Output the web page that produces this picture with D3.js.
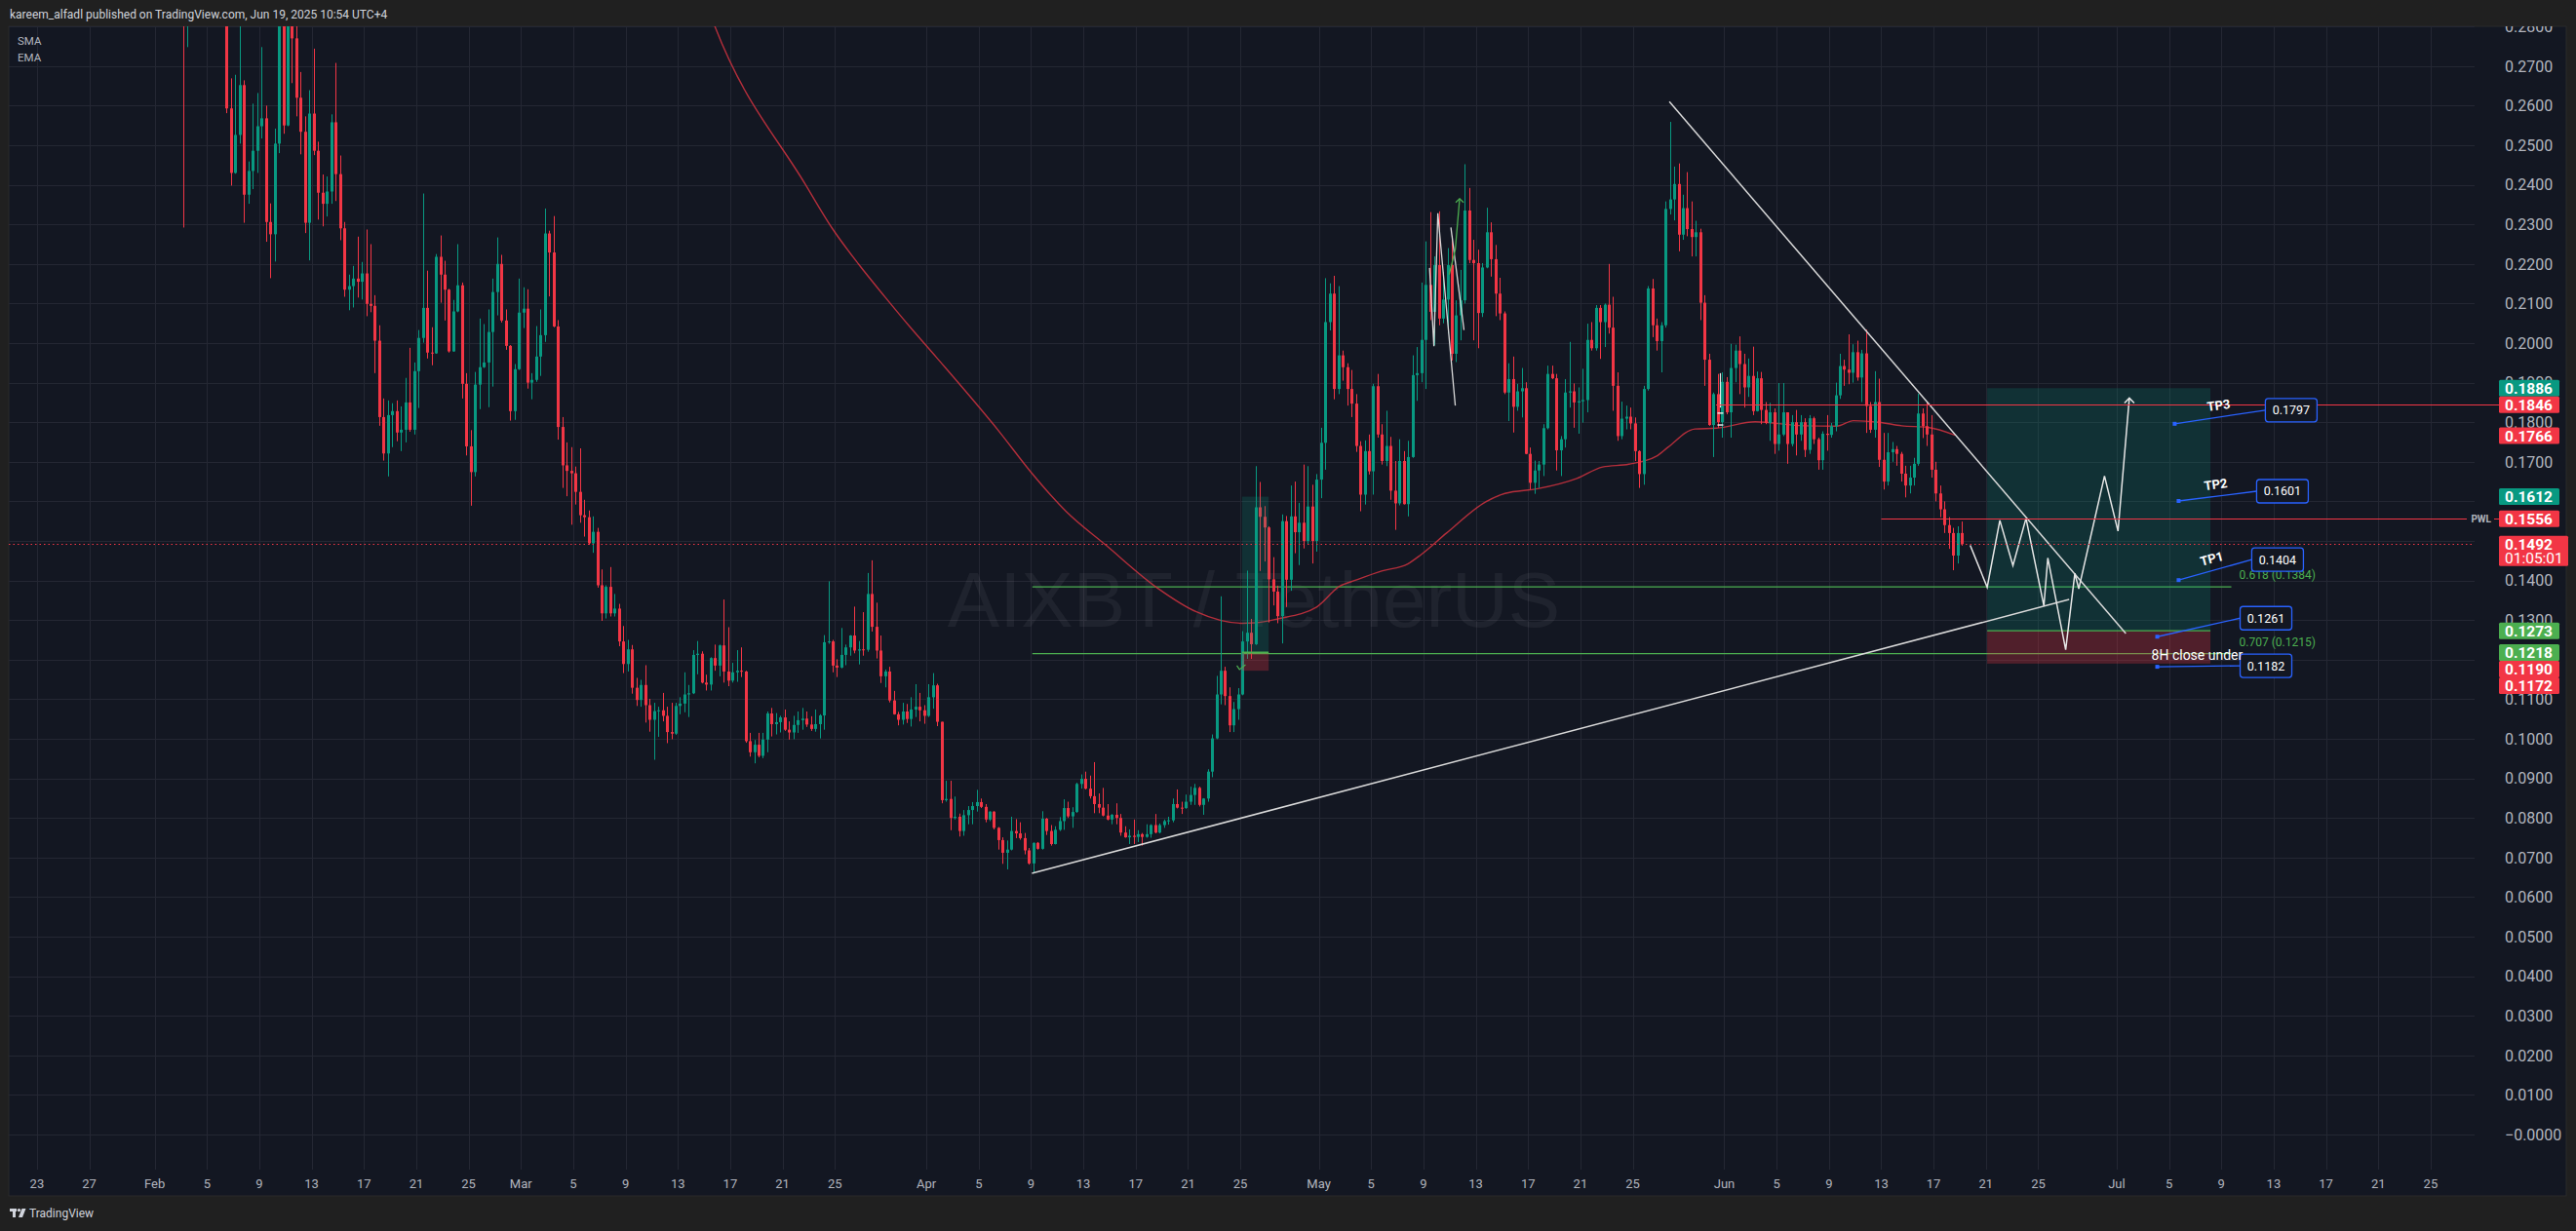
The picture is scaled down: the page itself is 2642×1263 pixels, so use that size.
<!DOCTYPE html>
<html><head><meta charset="utf-8">
<script src="https://cdn.jsdelivr.net/npm/d3@7"></script>
<style>html,body{margin:0;padding:0;background:#202020;overflow:hidden}svg{display:block}</style>
</head><body>
<svg id="c" width="2642" height="1263"></svg>
<script>
// ---------------- DATA (8H candles, AIXBT/USDT, first bar Feb 3 2025 00:00 UTC) ----------------
const firstOpen = 0.330;
const closes = [
0.310,0.320,0.335,0.325,0.340,0.318,0.305,0.312,0.300,0.295,
0.2593,0.2430,0.2526,0.2652,0.2375,0.2435,0.2486,0.2548,0.2568,0.2306,
0.2275,0.2504,0.2850,0.2550,0.2860,0.2770,0.2620,0.2534,0.2304,0.2580,
0.2486,0.2380,0.2352,0.2383,0.2558,0.2427,0.2290,0.2135,0.2144,0.2163,
0.2155,0.2176,0.2099,0.2094,0.2006,0.1813,0.1721,0.1818,0.1828,0.1774,
0.1781,0.1850,0.1781,0.1929,0.2013,0.2089,0.1976,0.1974,0.2218,0.2173,
0.2135,0.1979,0.2080,0.2146,0.1897,0.1739,0.1674,0.1895,0.1939,0.1951,
0.2028,0.2129,0.2200,0.2057,0.1993,0.1828,0.1934,0.2077,0.2087,0.1900,
0.1907,0.1966,0.2020,0.2277,0.2229,0.2042,0.1788,0.1691,0.1677,0.1671,
0.1624,0.1565,0.1560,0.1494,0.1523,0.1388,0.1317,0.1384,0.1317,0.1329,
0.1246,0.1189,0.1226,0.1129,0.1098,0.1136,0.1085,0.1048,0.1070,0.1072,
0.1058,0.1017,0.1013,0.1083,0.1089,0.1112,0.1115,0.1212,0.1215,0.1142,
0.1137,0.1204,0.1185,0.1236,0.1170,0.1147,0.1168,0.1172,0.1170,0.0994,
0.0966,0.0985,0.0957,0.0998,0.1064,0.1037,0.1042,0.1054,0.1023,0.1016,
0.1035,0.1047,0.1051,0.1036,0.1025,0.1037,0.1059,0.1244,0.1246,0.1185,
0.1180,0.1212,0.1231,0.1261,0.1223,0.1226,0.1225,0.1366,0.1283,0.1223,
0.1158,0.1170,0.1097,0.1062,0.1048,0.1069,0.1050,0.1074,0.1081,0.1072,
0.1058,0.1105,0.1135,0.1043,0.0845,0.0848,0.0800,0.0803,0.0767,0.0807,
0.0820,0.0830,0.0840,0.0828,0.0796,0.0816,0.0775,0.0744,0.0712,0.0720,
0.0767,0.0761,0.0749,0.0718,0.0685,0.0737,0.0722,0.0798,0.0767,0.0734,
0.0770,0.0792,0.0825,0.0804,0.0815,0.0886,0.0899,0.0874,0.0855,0.0835,
0.0826,0.0806,0.0796,0.0808,0.0800,0.0763,0.0751,0.0755,0.0752,0.0759,
0.0752,0.0759,0.0782,0.0763,0.0782,0.0792,0.0794,0.0835,0.0826,0.0825,
0.0841,0.0858,0.0876,0.0833,0.0849,0.0917,0.1001,0.1112,0.1172,0.1108,
0.1034,0.1075,0.1112,0.1246,0.1268,0.1239,0.1585,0.1561,0.1534,0.1403,
0.1372,0.1310,0.1550,0.1402,0.1562,0.1522,0.1546,0.1500,0.1587,0.1500,
0.1655,0.1748,0.2053,0.2125,0.1884,0.1969,0.1939,0.1884,0.1847,0.1740,
0.1617,0.1727,0.1676,0.1891,0.1769,0.1702,0.1740,0.1627,0.1595,0.1702,
0.1593,0.1712,0.1919,0.1924,0.2008,0.2147,0.2079,0.2197,0.2062,0.2110,
0.2197,0.1973,0.2070,0.2108,0.2335,0.2210,0.2202,0.2076,0.2191,0.2280,
0.2212,0.2125,0.2075,0.1875,0.1909,0.1839,0.1878,0.1886,0.1720,0.1647,
0.1678,0.1693,0.1785,0.1922,0.1911,0.1729,0.1757,0.1875,0.1878,0.1850,
0.1853,0.1856,0.2008,0.1987,0.2089,0.2053,0.2097,0.2039,0.1892,0.1765,
0.1809,0.1814,0.1797,0.1727,0.1669,0.1884,0.2138,0.2045,0.2005,0.2045,
0.2339,0.2363,0.2402,0.2274,0.2341,0.2288,0.2268,0.2280,0.2102,0.1958,
0.1793,0.1871,0.1800,0.1902,0.1825,0.1937,0.1981,0.1947,0.1888,0.1917,
0.1828,0.1911,0.1831,0.1798,0.1825,0.1745,0.1769,0.1825,0.1745,0.1800,
0.1769,0.1800,0.1730,0.1810,0.1757,0.1704,0.1771,0.1768,0.1790,0.1868,
0.1942,0.1933,0.1925,0.1977,0.1913,0.1974,0.1841,0.1781,0.1851,0.1705,
0.1650,0.1724,0.1732,0.1720,0.1670,0.1640,0.1660,0.1695,0.1822,0.1790,
0.1769,0.1680,0.1620,0.1580,0.1540,0.1520,0.1463,0.1520,0.1492];
const highs = [
0.345,0.330,0.350,0.345,0.355,0.345,0.325,0.322,0.318,0.306,
0.300,0.2669,0.2678,0.2820,0.2664,0.2459,0.2605,0.2632,0.2748,0.2600,
0.2353,0.2542,0.2920,0.2950,0.2920,0.2950,0.2810,0.2685,0.2573,0.2639,
0.2744,0.2509,0.2426,0.2421,0.2578,0.2708,0.2474,0.2306,0.2173,0.2195,
0.2269,0.2205,0.2287,0.2250,0.2121,0.2045,0.1860,0.1855,0.1848,0.1855,
0.1840,0.1912,0.1988,0.1951,0.2033,0.2378,0.2183,0.2040,0.2225,0.2272,
0.2208,0.2137,0.2109,0.2250,0.2153,0.1924,0.1780,0.1927,0.2062,0.2048,
0.2085,0.2163,0.2267,0.2223,0.2085,0.1995,0.1947,0.2163,0.2141,0.2136,
0.1924,0.2043,0.2085,0.2340,0.2284,0.2321,0.2058,0.1813,0.1749,0.1737,
0.1688,0.1734,0.1604,0.1577,0.1562,0.1533,0.1428,0.1388,0.1434,0.1366,
0.1341,0.1285,0.1250,0.1237,0.1154,0.1149,0.1186,0.1101,0.1091,0.1081,
0.1116,0.1081,0.1091,0.1091,0.1105,0.1168,0.1136,0.1224,0.1247,0.1221,
0.1162,0.1206,0.1238,0.1238,0.1352,0.1282,0.1192,0.1224,0.1231,0.1172,
0.1015,0.0997,0.1015,0.1015,0.1069,0.1078,0.1065,0.1058,0.1074,0.1044,
0.1058,0.1069,0.1078,0.1069,0.1057,0.1074,0.1062,0.1262,0.1398,0.1250,
0.1201,0.1280,0.1238,0.1262,0.1334,0.1247,0.1320,0.1419,0.1451,0.1344,
0.1261,0.1175,0.1182,0.1121,0.1068,0.1091,0.1088,0.1105,0.1138,0.1116,
0.1085,0.1138,0.1166,0.1139,0.1043,0.0894,0.0894,0.0854,0.0811,0.0820,
0.0830,0.0840,0.0871,0.0849,0.0835,0.0817,0.0817,0.0777,0.0751,0.0743,
0.0803,0.0797,0.0789,0.0762,0.0724,0.0738,0.0739,0.0817,0.0800,0.0782,
0.0779,0.0802,0.0847,0.0841,0.0827,0.0889,0.0910,0.0917,0.0907,0.0941,
0.0862,0.0876,0.0835,0.0810,0.0837,0.0810,0.0779,0.0771,0.0796,0.0769,
0.0762,0.0784,0.0784,0.0810,0.0786,0.0796,0.0803,0.0849,0.0872,0.0841,
0.0859,0.0879,0.0886,0.0879,0.0850,0.0923,0.1011,0.1159,0.1360,0.1182,
0.1130,0.1093,0.1128,0.1272,0.1425,0.1303,0.1689,0.1649,0.1588,0.1537,
0.1459,0.1387,0.1567,0.1563,0.1640,0.1650,0.1596,0.1693,0.1689,0.1642,
0.1669,0.1786,0.2164,0.2151,0.2170,0.2144,0.1981,0.1949,0.1932,0.1871,
0.1752,0.1754,0.1769,0.1897,0.1922,0.1795,0.1829,0.1763,0.1702,0.1757,
0.1727,0.1753,0.1969,0.1990,0.2153,0.2257,0.2331,0.2219,0.2333,0.2180,
0.2240,0.2270,0.2108,0.2185,0.2452,0.2392,0.2261,0.2236,0.2202,0.2342,
0.2305,0.2248,0.2165,0.2080,0.1949,0.1966,0.1897,0.1937,0.1901,0.1736,
0.1703,0.1702,0.1795,0.1943,0.1943,0.1922,0.1765,0.1909,0.2003,0.1898,
0.1888,0.1935,0.2049,0.2053,0.2096,0.2096,0.2100,0.2200,0.2117,0.1926,
0.1852,0.1842,0.1837,0.1812,0.1729,0.1892,0.2144,0.2162,0.2062,0.2053,
0.2358,0.2559,0.2446,0.2454,0.2375,0.2432,0.2358,0.2309,0.2289,0.2121,
0.1973,0.1875,0.1922,0.1926,0.1914,0.1998,0.1996,0.2017,0.1973,0.1961,
0.1991,0.1928,0.1927,0.1851,0.1849,0.1835,0.1899,0.1899,0.1822,0.1818,
0.1831,0.1818,0.1810,0.1818,0.1814,0.1761,0.1777,0.1818,0.1798,0.1900,
0.1973,0.1958,0.2022,0.1997,0.2006,0.1983,0.2034,0.1851,0.1929,0.1910,
0.1773,0.1773,0.1750,0.1740,0.1725,0.1690,0.1690,0.1710,0.1872,0.1835,
0.1851,0.1818,0.1700,0.1640,0.1600,0.1560,0.1533,0.1537,0.1549];
const lows = [
0.2292,0.2748,0.305,0.310,0.315,0.305,0.290,0.295,0.288,0.286,
0.2581,0.2398,0.2428,0.2504,0.2304,0.2352,0.2389,0.2430,0.2517,0.2256,
0.2164,0.2206,0.2480,0.2529,0.2548,0.2657,0.2573,0.2477,0.2278,0.2209,
0.2475,0.2312,0.2295,0.2320,0.2352,0.2359,0.2260,0.2117,0.2083,0.2090,
0.2115,0.2110,0.2068,0.2078,0.1924,0.1791,0.1703,0.1663,0.1737,0.1752,
0.1727,0.1749,0.1776,0.1769,0.1836,0.2001,0.1961,0.1944,0.1973,0.2102,
0.2057,0.1976,0.1978,0.2078,0.1860,0.1716,0.1589,0.1663,0.1833,0.1937,
0.1838,0.1890,0.2070,0.2052,0.1983,0.1804,0.1806,0.1932,0.2038,0.1885,
0.1858,0.1902,0.1917,0.2003,0.2118,0.2040,0.1756,0.1634,0.1613,0.1541,
0.1592,0.1546,0.1511,0.1490,0.1470,0.1382,0.1298,0.1304,0.1309,0.1309,
0.1234,0.1166,0.1170,0.1114,0.1083,0.1081,0.1041,0.1018,0.0947,0.1005,
0.1044,0.0989,0.0999,0.1010,0.1062,0.1067,0.1055,0.1113,0.1163,0.1140,
0.1122,0.1122,0.1172,0.1158,0.1142,0.1133,0.1142,0.1144,0.1156,0.0990,
0.0955,0.0938,0.0953,0.0951,0.0966,0.1006,0.1011,0.1016,0.1020,0.0998,
0.0999,0.1015,0.1023,0.1030,0.1020,0.1018,0.1001,0.1023,0.1240,0.1168,
0.1156,0.1178,0.1186,0.1210,0.1216,0.1188,0.1210,0.1220,0.1271,0.1203,
0.1141,0.1130,0.1092,0.1061,0.1034,0.1036,0.1040,0.1031,0.1055,0.1044,
0.1038,0.1055,0.1076,0.1032,0.0837,0.0841,0.0769,0.0796,0.0753,0.0755,
0.0784,0.0784,0.0816,0.0825,0.0789,0.0792,0.0771,0.0720,0.0684,0.0670,
0.0718,0.0749,0.0745,0.0708,0.0682,0.0661,0.0720,0.0720,0.0757,0.0730,
0.0733,0.0767,0.0770,0.0800,0.0775,0.0813,0.0874,0.0872,0.0849,0.0812,
0.0812,0.0804,0.0794,0.0784,0.0784,0.0755,0.0750,0.0734,0.0734,0.0739,
0.0730,0.0750,0.0750,0.0761,0.0761,0.0775,0.0783,0.0789,0.0824,0.0810,
0.0823,0.0833,0.0833,0.0829,0.0808,0.0841,0.0903,0.0999,0.1087,0.1085,
0.1017,0.1017,0.1048,0.1110,0.1202,0.1202,0.1237,0.1424,0.1448,0.1294,
0.1337,0.1292,0.1241,0.1333,0.1374,0.1469,0.1439,0.1481,0.1490,0.1443,
0.1473,0.1608,0.1680,0.2032,0.1858,0.1871,0.1905,0.1842,0.1813,0.1725,
0.1575,0.1592,0.1668,0.1617,0.1761,0.1693,0.1689,0.1604,0.1528,0.1590,
0.1592,0.1562,0.1710,0.1854,0.1901,0.1884,0.2058,0.1994,0.2045,0.2050,
0.2024,0.1956,0.1952,0.2007,0.2100,0.2202,0.2007,0.1987,0.2066,0.2189,
0.2168,0.2068,0.2058,0.1871,0.1803,0.1774,0.1829,0.1812,0.1719,0.1630,
0.1619,0.1634,0.1664,0.1782,0.1909,0.1678,0.1664,0.1736,0.1837,0.1786,
0.1771,0.1799,0.1825,0.1981,0.1981,0.1960,0.1990,0.2024,0.1829,0.1753,
0.1757,0.1782,0.1782,0.1702,0.1634,0.1642,0.1880,0.2015,0.1981,0.1926,
0.2039,0.2325,0.2310,0.2232,0.2261,0.2270,0.2219,0.2219,0.2058,0.1892,
0.1791,0.1712,0.1786,0.1761,0.1820,0.1761,0.1901,0.1871,0.1837,0.1864,
0.1818,0.1827,0.1795,0.1795,0.1753,0.1720,0.1728,0.1765,0.1695,0.1739,
0.1716,0.1753,0.1712,0.1720,0.1745,0.1680,0.1680,0.1728,0.1761,0.1777,
0.1859,0.1892,0.1896,0.1900,0.1905,0.1851,0.1773,0.1773,0.1761,0.1687,
0.1630,0.1640,0.1700,0.1690,0.1650,0.1610,0.1620,0.1640,0.1690,0.1760,
0.1740,0.1660,0.1600,0.1560,0.1520,0.1480,0.1426,0.1443,0.1488];

// moving average (bar index, value)
const maIdx = [118,122,142.8,148.9,154.9,160.9,166.8,172.8,187.3,194.4,202.6,211.6,223.5,232.4,242.9,245.9,251.1,260,265.2,269,274.9,280.9,283.9,289.8,298.8,303.2,310.7,319.7,325.6,331.6,337.9,340.5,346.8,351.7,360.6,371.8,379.3,383.1,389,394.2,400.2,406.5];
const maVal = [0.292,0.280,0.2400,0.2290,0.2200,0.2118,0.2040,0.1964,0.1775,0.1675,0.1574,0.1490,0.1381,0.1321,0.1292,0.1293,0.1303,0.1333,0.1385,0.1401,0.1424,0.1442,0.1465,0.1520,0.1599,0.1620,0.1632,0.1658,0.1687,0.1694,0.1714,0.1736,0.1783,0.1785,0.1801,0.1791,0.1790,0.1804,0.1800,0.1791,0.1787,0.1767];

// axis ticks
const dateTickLabels = ["23","27","Feb","5","9","13","17","21","25","Mar","5","9","13","17","21","25","Apr","5","9","13","17","21","25","May","5","9","13","17","21","25","Jun","5","9","13","17","21","25","Jul","5","9","13","17","21","25"];
const dateTickDates = ["2025-01-23","2025-01-27","2025-02-01","2025-02-05","2025-02-09","2025-02-13","2025-02-17","2025-02-21","2025-02-25","2025-03-01","2025-03-05","2025-03-09","2025-03-13","2025-03-17","2025-03-21","2025-03-25","2025-04-01","2025-04-05","2025-04-09","2025-04-13","2025-04-17","2025-04-21","2025-04-25","2025-05-01","2025-05-05","2025-05-09","2025-05-13","2025-05-17","2025-05-21","2025-05-25","2025-06-01","2025-06-05","2025-06-09","2025-06-13","2025-06-17","2025-06-21","2025-06-25","2025-07-01","2025-07-05","2025-07-09","2025-07-13","2025-07-17","2025-07-21","2025-07-25"];
const gridTicks = [0.28,0.27,0.26,0.25,0.24,0.23,0.22,0.21,0.20,0.19,0.18,0.17,0.16,0.15,0.14,0.13,0.12,0.11,0.10,0.09,0.08,0.07,0.06,0.05,0.04,0.03,0.02,0.01,0.00];
// labelled price ticks (those not hidden behind the price-scale markers)
const priceTickLabels = [0.28,0.27,0.26,0.25,0.24,0.23,0.22,0.21,0.20,0.19,0.18,0.17,0.14,0.13,0.11,0.10,0.09,0.08,0.07,0.06,0.05,0.04,0.03,0.02,0.01,0.00];

// price-scale markers
const markerValues = [0.1886,0.1846,0.1766,0.1612,0.1556,0.1492,0.1273,0.1218,0.1190,0.1172];
const markerKinds  = ["target","level","ma","target","level","last","entry","entry","stop","stop"];
const lastCountdown = "01:05:01";

// horizontal levels
const redLevels = [0.1846,0.1556];
const redLevelFrom = [351.6,389.5];
const fibRatios = ["0.618","0.707"];
const fibPrices = [0.1384,0.1215];
const fibFrom = 194.8, fibTo = 469.8;

// long position tools
const posFrom = [413.8,242.9], posTo = [465.0,249.0];
const posTarget = [0.1886,0.1612], posEntry = [0.1273,0.1218], posStop = [0.1190,0.1172];

// trendlines / drawings (bar index, price)
const resistLine = [[340.9,0.2610],[445.6,0.1266]];
const supportLine = [[194.7,0.0660],[432.6,0.1352]];
const pathIdx = [409.9,413.8,416.7,419.7,422.7,426.8,427.7,431.8,433.9,434.8,440.7,443.8,446.4];
const pathVal = [0.1489,0.1383,0.1552,0.1438,0.1557,0.1336,0.1457,0.1225,0.1418,0.1379,0.1664,0.1525,0.1861];
const mayZig1 = [[285.9,0.2190],[286.9,0.1992],[287.8,0.2328],[291.8,0.1842]];
const mayZig2 = [[290.8,0.2292],[293.8,0.2033]];
const mayArrow = [[290.4,0.2173],[291.8,0.2236],[292.8,0.2365]];
const checkMark = [[241.7,0.1185],[242.3,0.1175],[243.7,0.1187]];
const junMarkIdx = 352.6, junMarkTop = 0.1924, junMarkBottom = 0.1837, junDashes = [0.1823,0.1793];

// callouts
const calloutText = ["0.1797","0.1601","0.1404","0.1261","0.1182"];
const calloutIdx = [456.8,457.7,457.7,452.8,452.8];
const calloutPrice = [0.1796,0.1601,0.1401,0.1258,0.1182];
const tpNames = ["TP3","TP2","TP1"];
const noteText = "8H close under";
const noteAt = [461.95,0.1212];

// ---------------- LAYOUT ----------------
const W = 2642, H = 1263;
const paneL = 9, paneT = 27, paneR = 2632, paneB = 1227;
const plotR = 2538, plotB = 1200;
const upC = "#089981", dnC = "#f23645";
const FONT = "Roboto, 'Liberation Sans', sans-serif";

const x = d3.scaleUtc().domain([new Date(Date.UTC(2025,0,23)), new Date(Date.UTC(2025,6,25))]).range([37.9, 2492.9]);
const y = d3.scaleLinear().domain([0, 0.27]).range([1164, 67.8]);
const t0 = Date.UTC(2025,1,3,4);
const barTime = i => new Date(t0 + i*8*3600e3);
const bx = i => x(barTime(i));
const crisp = v => Math.round(v)+0.5;

const svg = d3.select("#c");
svg.append("rect").attr("width",W).attr("height",H).attr("fill","#202020");
svg.append("rect").attr("x",paneL).attr("y",paneT).attr("width",paneR-paneL).attr("height",paneB-paneT).attr("fill","#131722").attr("stroke","#2b2b2b").attr("stroke-width",1);

const defs = svg.append("defs");
defs.append("clipPath").attr("id","plot").append("rect").attr("x",paneL).attr("y",paneT).attr("width",plotR-paneL).attr("height",plotB-paneT);
defs.append("clipPath").attr("id","axis").append("rect").attr("x",plotR).attr("y",paneT).attr("width",paneR-plotR).attr("height",plotB-paneT);

// grid
const grid = svg.append("g").attr("clip-path","url(#plot)");
grid.selectAll("line.h").data(gridTicks).join("line")
  .attr("x1",paneL).attr("x2",plotR).attr("y1",d=>crisp(y(d))).attr("y2",d=>crisp(y(d)))
  .attr("stroke","#242733").attr("stroke-width",1);
grid.selectAll("line.v").data(dateTickDates).join("line")
  .attr("x1",d=>crisp(x(new Date(d+"T00:00:00Z")))).attr("x2",d=>crisp(x(new Date(d+"T00:00:00Z"))))
  .attr("y1",paneT).attr("y2",plotB).attr("stroke","#242733").attr("stroke-width",1);

// watermark
svg.append("text").attr("x",1286).attr("y",643).attr("text-anchor","middle")
  .attr("font-family","'Liberation Sans', Arial, sans-serif").attr("font-size",80)
  .attr("fill","#ffffff").attr("fill-opacity",0.055).text("AIXBT / TetherUS");

const plot = svg.append("g").attr("clip-path","url(#plot)");

// fib lines
fibPrices.forEach(p=>{
  plot.append("line").attr("x1",bx(fibFrom)).attr("x2",bx(fibTo)).attr("y1",y(p)).attr("y2",y(p))
    .attr("stroke","#4caf50").attr("stroke-width",1.2);
});

// MA line
const maLine = d3.line().x(d=>bx(d[0])).y(d=>y(d[1])).curve(d3.curveMonotoneX);
plot.append("path").datum(maIdx.map((v,k)=>[v,maVal[k]])).attr("d",maLine)
  .attr("fill","none").attr("stroke","#d0323f").attr("stroke-opacity",0.85).attr("stroke-width",1.4);

// candles
const bars = closes.map((c,i)=>{
  const o = i===0 ? firstOpen : closes[i-1];
  return {i, o, c, h: Math.max(highs[i],o,c), l: Math.min(lows[i],o,c)};
});
const cg = plot.append("g");
cg.selectAll("line").data(bars).join("line")
  .attr("x1",d=>crisp(bx(d.i))).attr("x2",d=>crisp(bx(d.i)))
  .attr("y1",d=>y(d.h)).attr("y2",d=>y(d.l))
  .attr("stroke",d=>d.c>=d.o?upC:dnC).attr("stroke-width",1);
cg.selectAll("rect").data(bars).join("rect")
  .attr("x",d=>Math.round(bx(d.i))-1).attr("width",3)
  .attr("y",d=>y(Math.max(d.o,d.c))).attr("height",d=>Math.max(1,Math.abs(y(d.o)-y(d.c))))
  .attr("fill",d=>d.c>=d.o?upC:dnC);

// position tools
posFrom.forEach((f,k)=>{
  const x0=bx(f), x1=bx(posTo[k]);
  plot.append("rect").attr("x",x0).attr("width",x1-x0).attr("y",y(posTarget[k])).attr("height",y(posEntry[k])-y(posTarget[k]))
    .attr("fill","#089981").attr("fill-opacity",0.2);
  plot.append("rect").attr("x",x0).attr("width",x1-x0).attr("y",y(posEntry[k])).attr("height",y(posStop[k])-y(posEntry[k]))
    .attr("fill","#f23645").attr("fill-opacity",0.28);
  plot.append("line").attr("x1",x0).attr("x2",x1).attr("y1",y(posEntry[k])).attr("y2",y(posEntry[k]))
    .attr("stroke","#4caf50").attr("stroke-width",k===1?2:1.2);
});
plot.append("path").datum(checkMark).attr("d",d3.line().x(d=>bx(d[0])).y(d=>y(d[1])))
  .attr("fill","none").attr("stroke","#4caf50").attr("stroke-width",1.2);

// red horizontal levels
redLevels.forEach((p,k)=>{
  svg.append("line").attr("x1",bx(redLevelFrom[k])).attr("x2",k===0?2563:2530).attr("y1",crisp(y(p))).attr("y2",crisp(y(p)))
    .attr("stroke","#f23645").attr("stroke-width",1);
});
svg.append("text").attr("x",2555).attr("y",y(0.1556)).attr("dy","0.35em").attr("text-anchor","end")
  .attr("font-family",FONT).attr("font-size",10).attr("font-weight","bold").attr("fill","#b2b5be").text("PWL");
svg.append("line").attr("x1",2558).attr("x2",2563).attr("y1",crisp(y(0.1556))).attr("y2",crisp(y(0.1556))).attr("stroke","#f23645");

// current price dotted line
svg.append("line").attr("x1",paneL).attr("x2",plotR).attr("y1",crisp(y(0.1492))).attr("y2",crisp(y(0.1492)))
  .attr("stroke","#f23645").attr("stroke-width",1).attr("stroke-dasharray","1.5,3");

// white drawings
const ln = d3.line().x(d=>bx(d[0])).y(d=>y(d[1]));
[resistLine, supportLine].forEach(L=>plot.append("path").datum(L).attr("d",ln).attr("fill","none").attr("stroke","#d9d9d9").attr("stroke-width",1.5));
const pathPts = pathIdx.map((v,k)=>[v,pathVal[k]]);
plot.append("path").datum(pathPts).attr("d",ln).attr("fill","none").attr("stroke","#e6e6e6").attr("stroke-width",1.5);
const tip = pathPts[pathPts.length-1];
const tx = bx(tip[0]), ty = y(tip[1]);
plot.append("path").attr("d",`M${tx-5},${ty+5}L${tx},${ty}L${tx+5},${ty+5}`).attr("fill","none").attr("stroke","#e6e6e6").attr("stroke-width",1.5);
[mayZig1, mayZig2].forEach(L=>plot.append("path").datum(L).attr("d",ln).attr("fill","none").attr("stroke","#d9d9d9").attr("stroke-width",1.3));
plot.append("path").datum(mayArrow).attr("d",ln).attr("fill","none").attr("stroke","#4caf50").attr("stroke-width",1.3);
const at = mayArrow[mayArrow.length-1];
plot.append("path").attr("d",`M${bx(at[0])-4},${y(at[1])+4}L${bx(at[0])},${y(at[1])}L${bx(at[0])+4},${y(at[1])+4}`).attr("fill","none").attr("stroke","#4caf50").attr("stroke-width",1.3);
// small white marker near Jun 1
plot.append("line").attr("x1",crisp(bx(junMarkIdx))).attr("x2",crisp(bx(junMarkIdx))).attr("y1",y(junMarkTop)).attr("y2",y(junMarkBottom)).attr("stroke","#e6e6e6").attr("stroke-width",1.2);
junDashes.forEach(p=>plot.append("line").attr("x1",bx(junMarkIdx)-3).attr("x2",bx(junMarkIdx)+3).attr("y1",y(p)).attr("y2",y(p)).attr("stroke","#e6e6e6").attr("stroke-width",1.5));

// fib labels
fibPrices.forEach((p,k)=>{
  svg.append("text").attr("x",bx(fibTo)+8).attr("y",y(p)-8).attr("font-family",FONT).attr("font-size",12)
    .attr("fill","#4caf50").text(`${fibRatios[k]} (${p.toFixed(4)})`);
});

// callouts
const boxDx = [93,80,75,85,85], boxDy = [-14,-10,-21,-19,-1];
const tpDx = [45,38,34], tpDy = [-19,-17,-22], tpRot = [-8,-8,-15];
calloutText.forEach((t,k)=>{
  const dx0 = bx(calloutIdx[k]), dy0 = y(calloutPrice[k]);
  const bxl = dx0+boxDx[k], bcy = dy0+boxDy[k];
  svg.append("line").attr("x1",dx0).attr("y1",dy0).attr("x2",bxl).attr("y2",bcy).attr("stroke","#2962ff").attr("stroke-width",1.3);
  svg.append("rect").attr("x",dx0-2).attr("y",dy0-2).attr("width",4).attr("height",4).attr("fill","#2962ff");
  svg.append("rect").attr("x",bxl).attr("y",bcy-12).attr("width",53).attr("height",24).attr("rx",3)
    .attr("fill","#131722").attr("stroke","#2962ff").attr("stroke-width",1.3);
  svg.append("text").attr("x",bxl+26.5).attr("y",bcy).attr("dy","0.36em").attr("text-anchor","middle")
    .attr("font-family",FONT).attr("font-size",12.5).attr("fill","#ffffff").text(t);
  if (k<3) {
    svg.append("text").attr("transform",`translate(${dx0+tpDx[k]},${dy0+tpDy[k]}) rotate(${tpRot[k]})`)
      .attr("text-anchor","middle").attr("dy","0.35em").attr("font-family",FONT).attr("font-size",13)
      .attr("font-weight","bold").attr("fill","#ffffff").text(tpNames[k]);
  }
});
svg.append("text").attr("x",bx(noteAt[0])).attr("y",y(noteAt[1])).attr("dy","0.35em").attr("text-anchor","middle")
  .attr("font-family",FONT).attr("font-size",14).attr("fill","#ffffff").text(noteText);

// price axis labels
const fmt = d3.format(".4f");
svg.append("g").attr("clip-path","url(#axis)").selectAll("text").data(priceTickLabels).join("text")
  .attr("x",2569).attr("y",d=>y(d)).attr("dy","0.36em")
  .attr("font-family",FONT).attr("font-size",16).attr("fill","#b2b5be")
  .text(d=>d===0?"\u22120.0000":fmt(d));

// markers on price scale
const kindColor = {target:"#089981", level:"#f23645", ma:"#f23645", last:"#f23645", entry:"#4caf50", stop:"#f23645"};
const order = markerValues.map((v,k)=>k).sort((a,b)=>markerValues[b]-markerValues[a]);
let prevBottom = -1e9;
const mg = svg.append("g");
order.forEach(k=>{
  const v = markerValues[k], kind = markerKinds[k];
  const h = kind==="last"?31:17;
  let top = y(v) - 8.5;
  if (top < prevBottom) top = prevBottom;
  prevBottom = top + h;
  mg.append("rect").attr("x",2563).attr("y",top).attr("width",kind==="last"?71:62).attr("height",h).attr("rx",1.5).attr("fill",kindColor[kind]);
  mg.append("text").attr("x",2569).attr("y",top+8.5).attr("dy","0.36em").attr("font-family",FONT)
    .attr("font-size",15.5).attr("font-weight","bold").attr("fill","#ffffff").text(fmt(v));
  if (kind==="last") mg.append("text").attr("x",2569).attr("y",top+23).attr("dy","0.36em").attr("font-family",FONT)
    .attr("font-size",15.5).attr("fill","#ffffff").text(lastCountdown);
});

// time axis labels
svg.append("g").selectAll("text").data(dateTickLabels).join("text")
  .attr("x",(d,k)=>x(new Date(dateTickDates[k]+"T00:00:00Z"))).attr("y",1214).attr("dy","0.36em").attr("text-anchor","middle")
  .attr("font-family",FONT).attr("font-size",13).attr("fill","#b2b5be").text(d=>d);

// header, legend, footer
svg.append("text").attr("x",10).attr("y",15).attr("dy","0.35em").attr("font-family",FONT).attr("font-size",12)
  .attr("fill","#d1d4dc").text("kareem_alfadl published on TradingView.com, Jun 19, 2025 10:54 UTC+4");
["SMA","EMA"].forEach((t,k)=>svg.append("text").attr("x",18).attr("y",42+k*17).attr("dy","0.35em").attr("font-family",FONT)
  .attr("font-size",11.5).attr("fill","#b2b5be").text(t));
const logo = svg.append("g").attr("fill","#d1d4dc");
logo.append("rect").attr("x",10).attr("y",1240).attr("width",7).attr("height",3);
logo.append("rect").attr("x",13).attr("y",1240).attr("width",3).attr("height",9);
logo.append("circle").attr("cx",19.5).attr("cy",1241.6).attr("r",1.7);
logo.append("path").attr("d","M22.5,1240L26.5,1240L23,1249L19,1249Z");
svg.append("text").attr("x",30).attr("y",1245).attr("dy","0.35em").attr("font-family",FONT).attr("font-size",12)
  .attr("fill","#d1d4dc").text("TradingView");
</script>
</body></html>
